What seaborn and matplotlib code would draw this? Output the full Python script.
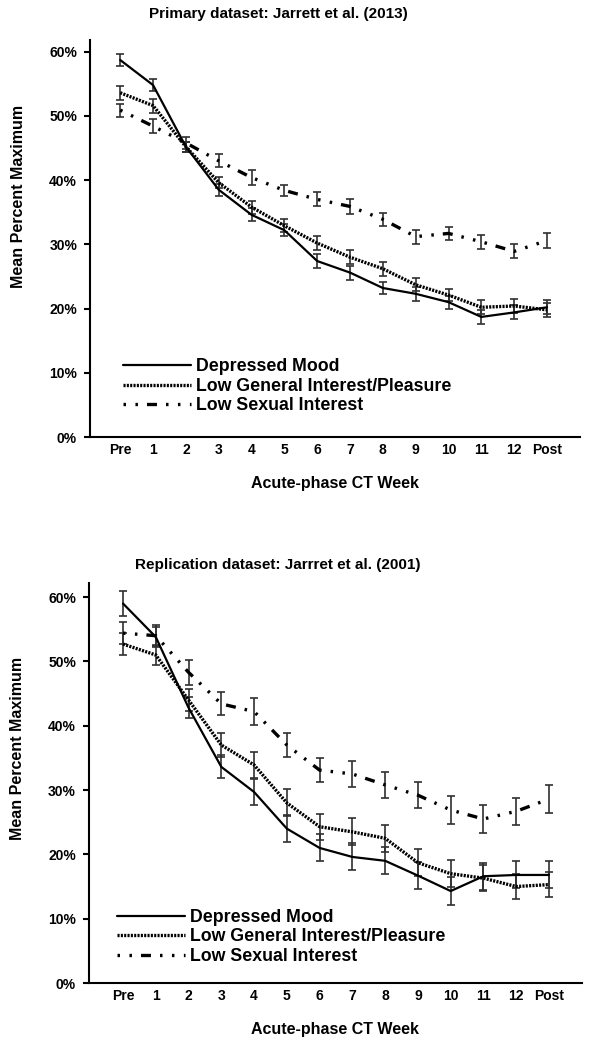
import matplotlib
matplotlib.use("Agg")
import matplotlib.pyplot as plt
import seaborn as sns
import pandas as pd
from matplotlib.ticker import PercentFormatter

weeks = ["Pre", "1", "2", "3", "4", "5", "6", "7", "8", "9", "10", "11", "12", "Post"]
symptoms = ["Depressed Mood", "Low General Interest/Pleasure", "Low Sexual Interest"]

# primary dataset: Jarrett et al. (2013), mean % max and SE
p_mood = [58.7, 54.8, 45.2, 38.5, 34.6, 32.2, 27.4, 25.6, 23.2, 22.3, 21.0, 18.7, 19.4, 20.2]
p_mood_se = [1.0, 1.0, 0.8, 0.9, 1.0, 0.9, 1.1, 1.1, 1.0, 1.1, 1.0, 1.1, 1.1, 1.1]
p_inter = [53.6, 51.6, 45.2, 39.6, 35.8, 32.9, 30.2, 28.0, 26.2, 23.7, 22.1, 20.2, 20.4, 19.8]
p_inter_se = [1.1, 1.1, 0.8, 0.9, 1.0, 1.0, 1.1, 1.1, 1.1, 1.0, 1.0, 1.1, 1.1, 1.1]
p_sex = [50.9, 48.4, 45.8, 43.0, 40.4, 38.4, 37.0, 35.9, 33.9, 31.2, 31.7, 30.4, 28.9, 30.6]
p_sex_se = [1.0, 1.1, 0.9, 1.0, 1.1, 0.9, 1.1, 1.1, 1.0, 1.1, 1.0, 1.1, 1.1, 1.2]

# replication dataset: Jarrret et al. (2001)
r_mood = [59.0, 53.8, 42.8, 33.6, 29.7, 24.0, 21.0, 19.6, 19.0, 16.7, 14.3, 16.6, 16.8, 16.8]
r_mood_se = [1.9, 1.5, 1.6, 1.8, 2.0, 2.1, 2.1, 2.1, 2.1, 2.1, 2.2, 2.1, 2.1, 2.1]
r_inter = [52.7, 51.0, 44.0, 37.0, 33.9, 28.0, 24.3, 23.5, 22.5, 18.7, 17.0, 16.3, 15.0, 15.3]
r_inter_se = [1.7, 1.6, 1.7, 1.9, 2.0, 2.1, 2.0, 2.1, 2.1, 2.1, 2.1, 2.0, 2.0, 2.0]
r_sex = [54.4, 54.0, 48.3, 43.4, 42.2, 37.0, 33.1, 32.5, 30.8, 29.2, 26.9, 25.5, 26.7, 28.6]
r_sex_se = [1.7, 1.6, 1.9, 1.8, 2.1, 1.9, 1.9, 2.0, 2.0, 2.0, 2.2, 2.1, 2.1, 2.2]

sns.set_theme(style="ticks")
plt.rcParams["font.family"] = ["Liberation Sans", "DejaVu Sans"]
plt.rcParams["font.weight"] = "bold"
plt.rcParams["lines.scale_dashes"] = False
for key in ["text.color", "axes.labelcolor", "xtick.color", "ytick.color", "axes.edgecolor"]:
    plt.rcParams[key] = "black"

styles = {
    "Depressed Mood": dict(linestyle="-", lw=1.6),
    "Low General Interest/Pleasure": dict(linestyle=(0, (1.5, 0.9)), lw=2.4),
    "Low Sexual Interest": dict(linestyle=(22.3, (7.2, 6.5, 1.8, 6.8, 1.8, 6.8, 1.8, 6.5)), lw=2.4),
}


def draw_panel(ax, series, title_y, title, xlim, ylim, leg_anchor, ylab_y):
    xs = list(range(len(weeks)))
    rows = []
    for name, (vals, se) in zip(symptoms, series):
        for i, (v, e) in enumerate(zip(vals, se)):
            rows.append({"week": i, "value": v, "se": e, "symptom": name})
    df = pd.DataFrame(rows)

    for name in symptoms:
        d = df[df.symptom == name]
        ax.errorbar(d.week, d.value, yerr=d.se, fmt="none", ecolor="#303030",
                    elinewidth=1.2, capsize=3, capthick=1.2, zorder=2)
        sns.lineplot(data=d, x="week", y="value", ax=ax, color="black",
                     label=name, zorder=3, **styles[name])

    ax.set_xlim(*xlim)
    ax.set_ylim(*ylim)
    ax.set_xticks(xs)
    ax.set_xticklabels(weeks)
    ax.set_yticks([0, 10, 20, 30, 40, 50, 60])
    ax.yaxis.set_major_formatter(PercentFormatter(100, decimals=0))
    ax.tick_params(axis="x", length=0, pad=4, labelsize=10)
    ax.tick_params(axis="y", length=4.3, width=1.5, pad=5, labelsize=10, color="black")
    for lab in ax.get_xticklabels() + ax.get_yticklabels():
        lab.set_fontweight("bold")
    for s in ["left", "bottom"]:
        ax.spines[s].set_linewidth(1.5)
        ax.spines[s].set_color("black")
    sns.despine(ax=ax)

    ax.set_xlabel("Acute-phase CT Week", fontsize=11.5, fontweight="bold", labelpad=14)
    ax.set_ylabel("Mean Percent Maximum", fontsize=11.5, fontweight="bold")
    ax.yaxis.set_label_coords(-0.13, ylab_y)

    ax.legend(loc="upper left", bbox_to_anchor=leg_anchor, frameon=False,
              handlelength=3.85, handletextpad=0.25,
              labelspacing=0.14, borderpad=0, borderaxespad=0,
              prop={"weight": "bold", "size": 12.8})

    ax.figure.text(0.469, title_y, title, ha="center", va="center",
                   fontsize=11, fontweight="bold")


fig = plt.figure(figsize=(5.93, 10.5), dpi=100)
ax1 = fig.add_axes([0.1518, 0.5838, 0.826, 0.378])
ax2 = fig.add_axes([0.150, 0.0638, 0.831, 0.381])

draw_panel(ax1, [(p_mood, p_mood_se), (p_inter, p_inter_se), (p_sex, p_sex_se)],
           0.9867, "Primary dataset: Jarrett et al. (2013)",
           (-0.92, 14.0), (0, 61.8), (0.067, 0.198), 0.605)
draw_panel(ax2, [(r_mood, r_mood_se), (r_inter, r_inter_se), (r_sex, r_sex_se)],
           0.4619, "Replication dataset: Jarrret et al. (2001)",
           (-1.04, 14.0), (0, 62.2), (0.057, 0.185), 0.5875)

fig.savefig("out.png", dpi=100)
